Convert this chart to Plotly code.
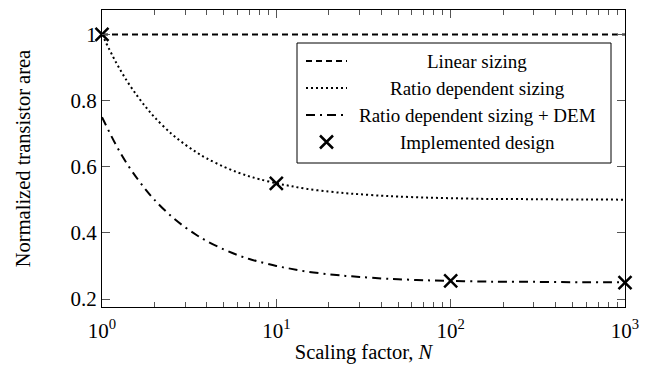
import plotly.graph_objects as go

# ---- data ----
N = [1, 1.2, 1.4, 1.6, 1.8, 2, 2.5, 3, 3.5, 4, 5, 6, 7, 8, 10, 12, 15, 20, 25, 30,
     40, 50, 70, 100, 150, 200, 300, 500, 700, 1000]
linear = [1.0] * len(N)
ratio = [1.0, 0.917, 0.857, 0.813, 0.778, 0.75, 0.70, 0.667, 0.643, 0.625, 0.60, 0.583,
         0.571, 0.5625, 0.55, 0.542, 0.533, 0.525, 0.52, 0.517, 0.5125, 0.51, 0.507,
         0.505, 0.503, 0.5025, 0.502, 0.501, 0.501, 0.5005]
ratio_dem = [0.75, 0.667, 0.607, 0.563, 0.528, 0.50, 0.45, 0.417, 0.393, 0.375, 0.35,
             0.333, 0.321, 0.3125, 0.30, 0.292, 0.283, 0.275, 0.27, 0.267, 0.2625, 0.26,
             0.257, 0.255, 0.253, 0.2525, 0.252, 0.251, 0.251, 0.2505]
impl_N = [1, 10, 100, 1000]
impl_area = [1.0, 0.55, 0.255, 0.25]

names = ["Linear sizing", "Ratio dependent sizing", "Ratio dependent sizing + DEM",
         "Implemented design"]
x_tickvals = [1, 10, 100, 1000]
x_ticktext = ["10<sup>0</sup>", "10<sup>1</sup>", "10<sup>2</sup>", "10<sup>3</sup>"]
y_tickvals = [0.2, 0.4, 0.6, 0.8, 1.0]
y_ticktext = ["0.2", "0.4", "0.6", "0.8", "1"]

FONT = "Liberation Serif, Times New Roman, serif"
DASH = "6px,4px"
DOT = "2px,3px"
DASHDOT = "9px,5px,2px,5px"
LW = 2

fig = go.Figure()
fig.add_trace(go.Scatter(x=N, y=linear, mode="lines",
                         line=dict(color="black", width=LW, dash=DASH)))
fig.add_trace(go.Scatter(x=N, y=ratio, mode="lines",
                         line=dict(color="black", width=LW, dash=DOT, shape="spline")))
fig.add_trace(go.Scatter(x=N, y=ratio_dem, mode="lines",
                         line=dict(color="black", width=LW, dash=DASHDOT, shape="spline")))
fig.add_trace(go.Scatter(x=impl_N, y=impl_area, mode="markers",
                         marker=dict(symbol="x-thin", size=13, color="black",
                                     line=dict(color="black", width=2.5)),
                         cliponaxis=False))

# ---- manual legend on an overlay axis in pixel-like units ----
L, R, T, B = 102, 625, 10, 307
box = dict(x0=297, x1=611, y0=43, y1=163)
rows = [61, 88, 115, 142]
sx0, sx1, tx = 306, 347, 477
styles = [DASH, DOT, DASHDOT]
for i, st in enumerate(styles):
    fig.add_trace(go.Scatter(x=[sx0, sx1], y=[rows[i], rows[i]], mode="lines",
                             xaxis="x2", yaxis="y2",
                             line=dict(color="black", width=LW, dash=st)))
fig.add_trace(go.Scatter(x=[(sx0 + sx1) / 2], y=[rows[3]], mode="markers",
                         xaxis="x2", yaxis="y2",
                         marker=dict(symbol="x-thin", size=13, color="black",
                                     line=dict(color="black", width=2.5))))
fig.add_shape(type="rect", xref="x2", yref="y2", x0=box["x0"], x1=box["x1"],
              y0=box["y0"], y1=box["y1"], line=dict(color="black", width=1),
              fillcolor="white", layer="below")
for i, nm in enumerate(names):
    fig.add_annotation(x=tx, y=rows[i], xref="x2", yref="y2", text=nm,
                       showarrow=False, xanchor="center", yanchor="middle",
                       font=dict(family=FONT, size=19, color="black"))

axis_common = dict(showgrid=False, zeroline=False, showline=True, linecolor="black",
                   linewidth=1.2, mirror="ticks", ticks="inside", ticklen=8,
                   tickwidth=0.8, tickcolor="#555",
                   tickfont=dict(family=FONT, size=21, color="black"))

fig.update_layout(
    width=652, height=374,
    margin=dict(l=L, r=652 - R, t=T, b=374 - B),
    paper_bgcolor="white", plot_bgcolor="white",
    showlegend=False,
    xaxis=dict(type="log", range=[0, 3], tickvals=x_tickvals, ticktext=x_ticktext,
               ticklabelstandoff=5,
               minor=dict(ticks="inside", ticklen=5, tickwidth=0.8, tickcolor="#555",
                          tickvals=[2, 3, 4, 5, 6, 7, 8, 9, 20, 30, 40, 50, 60, 70, 80, 90,
                                    200, 300, 400, 500, 600, 700, 800, 900]),
               title=dict(text="Scaling factor, <i>N</i>", standoff=2,
                          font=dict(family=FONT, size=20.5, color="black")),
               **axis_common),
    yaxis=dict(range=[0.176, 1.074], tickvals=y_tickvals, ticktext=y_ticktext,
               title=dict(text="Normalized transistor area", standoff=34,
                          font=dict(family=FONT, size=20.5, color="black")),
               **axis_common),
    xaxis2=dict(overlaying="x", range=[L, R], visible=False, domain=[0, 1]),
    yaxis2=dict(overlaying="y", range=[B, T], visible=False),
)

fig.write_html("out.html")
